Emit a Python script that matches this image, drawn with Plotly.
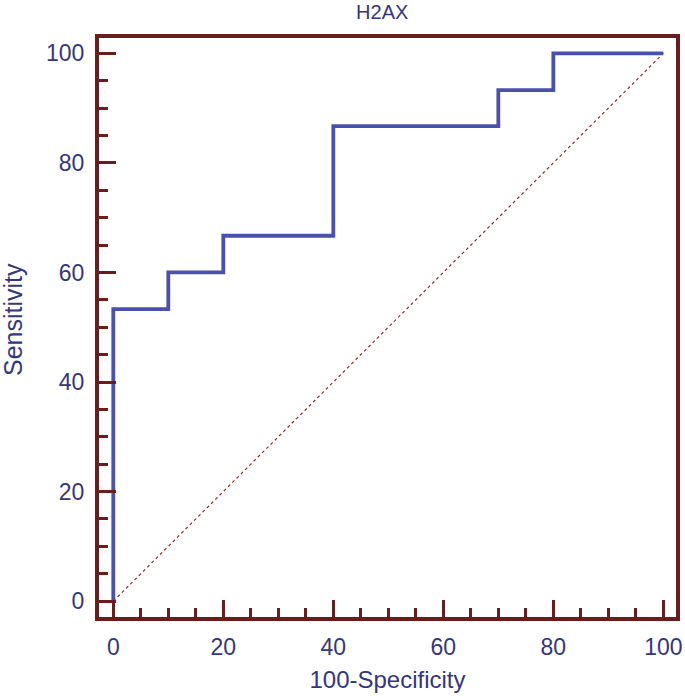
import plotly.graph_objects as go

fpr = [0, 0, 10, 10, 20, 20, 40, 40, 70, 70, 80, 80, 100]
tpr = [0, 53.3, 53.3, 60, 60, 66.7, 66.7, 86.7, 86.7, 93.3, 93.3, 100, 100]
diag_x = [0, 100]
diag_y = [0, 100]
tick_vals = [0, 20, 40, 60, 80, 100]
tick_text = ["0", "20", "40", "60", "80", "100"]

FRAME = "#6b1c1c"
TXT = "#36367d"
ROC = "#4a50ad"
FONT = "Liberation Sans, Arial, sans-serif"

fig = go.Figure()
fig.add_trace(go.Scatter(x=diag_x, y=diag_y, mode="lines",
                         line=dict(color="#8e2a2a", width=1.2, dash="dot"),
                         hoverinfo="skip", showlegend=False))
fig.add_trace(go.Scatter(x=fpr, y=tpr, mode="lines",
                         line=dict(color=ROC, width=3.8),
                         showlegend=False))

axis_common = dict(
    showline=True, linecolor=FRAME, linewidth=4, mirror=True,
    ticks="inside", ticklen=17, tickwidth=3, tickcolor=FRAME,
    showgrid=False, zeroline=False, automargin=False,
    tickvals=tick_vals, ticktext=tick_text,
    tickfont=dict(family=FONT, size=23, color=TXT),
    minor=dict(dtick=5, ticks="inside", ticklen=9, tickwidth=3,
               tickcolor=FRAME, showgrid=False),
)

fig.update_layout(
    width=685, height=696,
    margin=dict(l=99, r=9, t=38, b=79),
    paper_bgcolor="white", plot_bgcolor="white",
    title=dict(text="H2AX", x=0.558, xanchor="center",
               y=1 - 12 / 696, yanchor="middle",
               font=dict(family=FONT, size=20, color=TXT)),
    xaxis=dict(range=[-2.6, 102.3],
               title=dict(text="100-Specificity", standoff=14,
                          font=dict(family=FONT, size=24, color=TXT)),
               ticklabelstandoff=6,
               **axis_common),
    yaxis=dict(range=[-2.9, 102.8],
               ticklabelstandoff=6,
               **axis_common),
    annotations=[dict(text="Sensitivity", xref="paper", yref="paper",
                      x=0, y=0.513, xshift=-86, textangle=-90,
                      showarrow=False, xanchor="center", yanchor="middle",
                      font=dict(family=FONT, size=25, color=TXT))],
)

fig.write_html("out.html", config={"displayModeBar": False},
               post_script="document.body.style.margin='0';")
